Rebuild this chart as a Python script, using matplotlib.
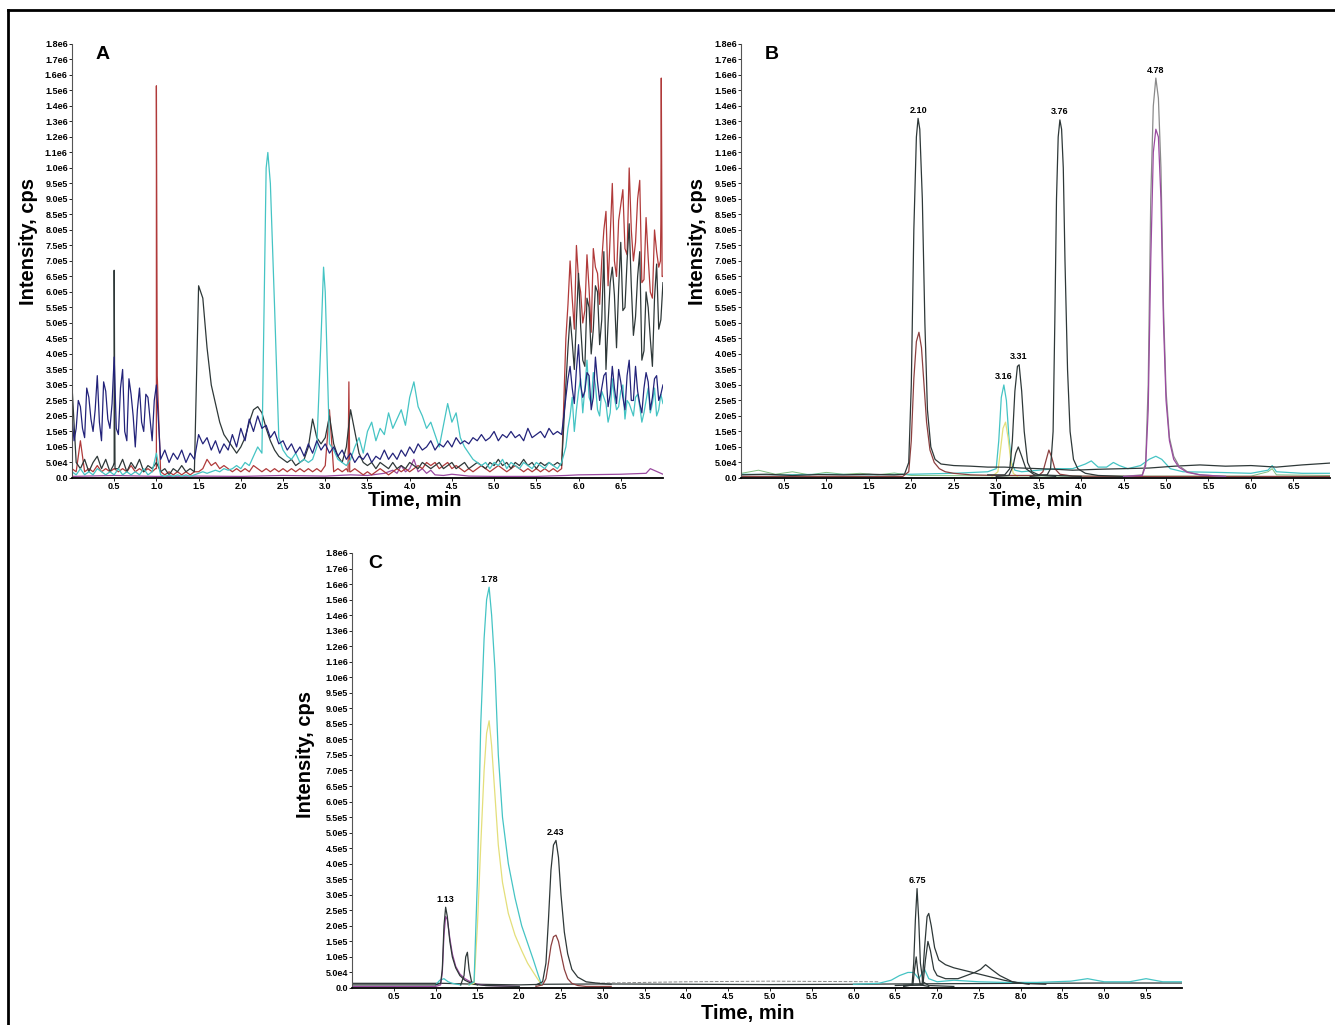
import numpy as np
import matplotlib
matplotlib.use("Agg")
import matplotlib.pyplot as plt
from matplotlib.lines import Line2D
from matplotlib.ticker import FixedLocator, FuncFormatter

plt.rcParams['font.family'] = ['Liberation Sans', 'DejaVu Sans']
plt.rcParams['font.weight'] = 'bold'

# ---------------- panel A (blank / interference), 0.05 min grid ----------------
grid_a = np.round(np.arange(0, 7.001, 0.05), 2)
# extra readings between grid points where the noise is densest
mid_a1 = np.round(np.arange(0.025, 1.0, 0.05), 3)
mid_a2 = np.round(np.arange(5.875, 7.0, 0.05), 3)

a_navy = [2.0e5, 1.6e5, 2.3e5, 1.3e5, 2.6e5, 1.5e5, 3.3e5, 1.2e5, 2.8e5, 1.6e5,
          3.9e5, 1.4e5, 3.5e5, 1.2e5, 2.7e5, 1.0e5, 2.9e5, 1.5e5, 2.6e5, 1.2e5,
          3.0e5, 6e4, 9e4, 5e4, 8e4, 6e4, 9e4, 5e4, 8e4, 6e4,
          1.4e5, 1.1e5, 1.3e5, 9e4, 1.2e5, 8e4, 1.1e5, 9e4, 1.4e5, 1.0e5,
          1.6e5, 1.2e5, 1.9e5, 1.5e5, 2.0e5, 1.6e5, 1.7e5, 1.3e5, 1.5e5, 1.1e5,
          1.2e5, 9e4, 1.1e5, 8e4, 1.0e5, 7e4, 1.1e5, 8e4, 1.2e5, 9e4,
          1.1e5, 8e4, 1.0e5, 7e4, 9e4, 6e4, 8e4, 5e4, 7e4, 6e4,
          8e4, 5e4, 7e4, 6e4, 9e4, 6e4, 8e4, 6e4, 9e4, 7e4,
          1.0e5, 8e4, 1.1e5, 9e4, 1.0e5, 1.2e5, 9e4, 1.1e5, 1.0e5, 1.2e5,
          1.0e5, 1.3e5, 1.1e5, 1.2e5, 1.1e5, 1.3e5, 1.2e5, 1.4e5, 1.2e5, 1.3e5,
          1.5e5, 1.2e5, 1.4e5, 1.3e5, 1.5e5, 1.3e5, 1.4e5, 1.2e5, 1.6e5, 1.3e5,
          1.4e5, 1.5e5, 1.3e5, 1.6e5, 1.4e5, 1.5e5, 1.4e5, 2.6e5, 3.6e5, 2.4e5,
          4.3e5, 2.6e5, 3.4e5, 2.2e5, 3.9e5, 2.5e5, 3.3e5, 2.3e5, 3.6e5, 2.4e5,
          3.1e5, 2.2e5, 3.8e5, 2.5e5, 2.8e5, 2.1e5, 3.4e5, 2.2e5, 3.2e5, 2.5e5,
          3.0e5]
a_navy_mid1 = [1.2e5, 2.5e5, 1.6e5, 2.9e5, 1.9e5, 2.2e5, 1.8e5, 3.1e5, 1.9e5, 2.4e5,
               1.6e5, 2.9e5, 1.5e5, 3.2e5, 2.0e5, 2.2e5, 1.8e5, 2.7e5, 1.9e5, 2.5e5]
a_navy_mid2 = [3.2e5, 2.9e5, 3.5e5, 3.0e5, 2.8e5, 3.3e5, 2.6e5, 3.1e5, 2.9e5, 3.4e5,
               2.7e5, 2.9e5, 3.5e5, 2.6e5, 3.3e5, 2.5e5, 3.6e5, 2.4e5, 2.9e5, 3.1e5,
               2.6e5, 3.3e5, 2.7e5]

a_dark = [3.0e5, 5e4, 3e4, 6e4, 2e4, 5e4, 7e4, 3e4, 6e4, 2e4,
          5e4, 3e4, 6e4, 2e4, 5e4, 3e4, 6e4, 2e4, 4e4, 3e4,
          5e4, 2e4, 3e4, 1e4, 3e4, 2e4, 4e4, 2e4, 3e4, 2e4,
          6.2e5, 5.8e5, 4.2e5, 3.0e5, 2.4e5, 1.8e5, 1.4e5, 1.2e5, 1.0e5, 8e4,
          1.0e5, 1.3e5, 1.8e5, 2.2e5, 2.3e5, 2.1e5, 1.6e5, 1.2e5, 9e4, 7e4,
          6e4, 5e4, 6e4, 4e4, 5e4, 6e4, 1.0e5, 1.9e5, 1.3e5, 1.1e5,
          1.3e5, 2.0e5, 1.1e5, 7e4, 5e4, 1.0e5, 2.2e5, 1.5e5, 8e4, 5e4,
          4e4, 5e4, 3e4, 5e4, 4e4, 3e4, 5e4, 3e4, 4e4, 3e4,
          5e4, 4e4, 3e4, 5e4, 4e4, 3e4, 4e4, 5e4, 3e4, 4e4,
          5e4, 3e4, 4e4, 5e4, 3e4, 4e4, 5e4, 4e4, 3e4, 5e4,
          4e4, 6e4, 4e4, 5e4, 3e4, 5e4, 4e4, 6e4, 4e4, 5e4,
          3e4, 5e4, 4e4, 5e4, 4e4, 5e4, 4e4, 3.0e5, 5.2e5, 3.5e5,
          6.6e5, 3.8e5, 5.8e5, 4.0e5, 6.2e5, 4.3e5, 7.3e5, 5.0e5, 6.8e5, 4.2e5,
          7.6e5, 5.5e5, 8.2e5, 4.6e5, 6.5e5, 3.8e5, 6.0e5, 4.5e5, 5.8e5, 4.8e5,
          6.3e5]
a_dark_mid2 = [4.2e5, 4.4e5, 5.1e5, 4.9e5, 3.6e5, 5.5e5, 4.8e5, 6.0e5, 5.1e5, 3.5e5,
               6.3e5, 5.9e5, 6.1e5, 5.4e5, 7.0e5, 6.2e5, 5.2e5, 7.3e5, 4.1e5, 5.5e5,
               3.6e5, 6.9e5, 5.1e5]

a_red = [3e4, 2e4, 1.2e5, 2e4, 3e4, 2e4, 4e4, 2e4, 3e4, 2e4,
         3e4, 2e4, 3e4, 2e4, 4e4, 2e4, 3e4, 2e4, 3e4, 2e4,
         3e4, 2e4, 1e4, 2e4, 1e4, 2e4, 1e4, 2e4, 1e4, 2e4,
         2e4, 3e4, 6e4, 4e4, 5e4, 3e4, 4e4, 3e4, 2e4, 3e4,
         2e4, 3e4, 2e4, 4e4, 3e4, 2e4, 3e4, 2e4, 3e4, 2e4,
         3e4, 2e4, 3e4, 2e4, 3e4, 2e4, 3e4, 2e4, 3e4, 2e4,
         4e4, 2.2e5, 2e4, 3e4, 2e4, 3e4, 2e4, 3e4, 2e4, 1e4,
         2e4, 1e4, 2e4, 3e4, 2e4, 1e4, 2e4, 3e4, 2e4, 3e4,
         2e4, 3e4, 4e4, 3e4, 5e4, 4e4, 5e4, 3e4, 4e4, 5e4,
         3e4, 4e4, 3e4, 2e4, 3e4, 2e4, 3e4, 4e4, 3e4, 2e4,
         3e4, 4e4, 3e4, 2e4, 3e4, 4e4, 3e4, 2e4, 3e4, 2e4,
         3e4, 2e4, 3e4, 2e4, 3e4, 2e4, 3e4, 4.5e5, 7.0e5, 4.8e5,
         6.4e5, 5.0e5, 7.2e5, 4.7e5, 6.8e5, 5.6e5, 8.0e5, 6.2e5, 9.5e5, 6.5e5,
         8.8e5, 7.4e5, 1.0e6, 7.0e5, 9.0e5, 6.3e5, 8.4e5, 6.0e5, 8.0e5, 6.8e5,
         6.5e5]
a_red_mid2 = [5.6e5, 5.8e5, 7.5e5, 6.0e5, 5.4e5, 6.1e5, 7.4e5, 6.6e5, 7.0e5, 8.6e5,
              7.8e5, 7.0e5, 8.3e5, 9.3e5, 7.2e5, 8.0e5, 7.6e5, 9.6e5, 6.4e5, 7.1e5,
              5.8e5, 7.3e5, 8.2e5]

a_cyan = [2e4, 1e4, 3e4, 1e4, 2e4, 1e4, 3e4, 2e4, 1e4, 2e4,
          1e4, 3e4, 1e4, 2e4, 1e4, 2e4, 1e4, 3e4, 1e4, 2e4,
          8e4, 1e4, 5e3, 1e4, 5e3, 1e4, 5e3, 1e4, 5e3, 1e4,
          1.5e4, 2e4, 1.5e4, 2e4, 2.5e4, 2e4, 3e4, 2.5e4, 3e4, 4e4,
          3e4, 5e4, 4e4, 7e4, 1.0e5, 8e4, 1.0e6, 9.5e5, 5.5e5, 1.3e5,
          9e4, 7e4, 6e4, 8e4, 5e4, 6e4, 5e4, 6e4, 1.0e5, 4.5e5,
          6.0e5, 1.1e5, 9e4, 6e4, 5e4, 4e4, 6e4, 1.0e5, 1.3e5, 8e4,
          1.5e5, 1.8e5, 1.2e5, 1.6e5, 1.4e5, 2.1e5, 1.6e5, 1.9e5, 2.2e5, 1.7e5,
          2.6e5, 3.1e5, 2.3e5, 2.0e5, 1.6e5, 1.8e5, 1.4e5, 1.0e5, 1.7e5, 2.4e5,
          1.8e5, 2.1e5, 1.3e5, 1.0e5, 8e4, 6e4, 5e4, 4e4, 5e4, 3e4,
          5e4, 4e4, 6e4, 3e4, 5e4, 4e4, 3e4, 5e4, 4e4, 3e4,
          5e4, 4e4, 3e4, 5e4, 4e4, 3e4, 5e4, 1.0e5, 2.0e5, 1.5e5,
          2.8e5, 2.1e5, 3.8e5, 2.4e5, 3.0e5, 2.0e5, 2.6e5, 1.8e5, 3.2e5, 2.2e5,
          2.8e5, 1.9e5, 2.4e5, 2.0e5, 2.7e5, 1.8e5, 2.5e5, 2.1e5, 2.9e5, 2.2e5,
          2.4e5]
a_cyan_mid2 = [1.6e5, 2.6e5, 2.2e5, 3.2e5, 2.9e5, 2.6e5, 3.4e5, 2.2e5, 2.8e5, 2.4e5,
               2.1e5, 2.6e5, 2.3e5, 3.0e5, 2.5e5, 2.2e5, 2.6e5, 2.3e5, 2.1e5, 2.9e5,
               2.4e5, 2.0e5, 2.7e5]

# narrow spikes that fall between grid points
a_dark_spk_t = [0.49, 0.50, 0.51]
a_dark_spk_v = [4e4, 6.7e5, 3e4]
a_red_spk_t = [0.99, 1.00, 1.01, 3.27, 3.28, 3.29, 6.97, 6.98, 6.99]
a_red_spk_v = [3e4, 1.53e6, 3.3e5, 2e4, 3.1e5, 2e4, 7.0e5, 1.58e6, 6.5e5]
a_cyan_spk_t = [2.32, 2.98]
a_cyan_spk_v = [1.1e6, 6.8e5]

a_purple_t = [0.0, 0.5, 1.0, 1.5, 2.0, 2.5, 3.0, 3.3, 3.5, 3.7, 3.8, 3.85, 3.9, 3.95, 4.0, 4.05,
              4.1, 4.15, 4.2, 4.25, 4.3, 4.4, 4.5, 4.7, 5.0, 5.5, 5.85, 6.0, 6.5, 6.8, 6.85, 7.0]
a_purple_v = [5e3, 8e3, 5e3, 6e3, 5e3, 8e3, 6e3, 1e4, 8e3, 1.5e4, 2.5e4, 1.5e4, 4e4, 2e4, 3e4, 6e4,
              2e4, 3e4, 1.5e4, 2.5e4, 1e4, 8e3, 1.2e4, 6e3, 5e3, 5e3, 8e3, 1e4, 1.2e4, 1.5e4, 3e4, 1.2e4]

# ---------------- panel B ----------------
b_dark1_t = [0.0, 0.3, 0.6, 0.9, 1.2, 1.5, 1.8, 1.92, 1.97, 2.00, 2.03, 2.06, 2.08, 2.10, 2.13, 2.16,
             2.19, 2.23, 2.28, 2.35, 2.5, 2.7, 2.9, 3.1, 3.3, 3.5, 3.7, 3.9, 4.2, 4.5, 4.8, 5.1,
             5.4, 5.7, 6.0, 6.3, 6.6, 6.93]
b_dark1_v = [1.0e4, 1.2e4, 0.8e4, 1.1e4, 1.0e4, 1.2e4, 1.0e4, 1.2e4, 5e4, 3.0e5, 8.0e5, 1.2e6, 1.32e6,
             1.25e6, 9.0e5, 5.0e5, 2.2e5, 1.0e5, 6e4, 4.5e4, 4.0e4, 3.8e4, 3.5e4, 3.5e4, 3.2e4, 3.0e4,
             2.8e4, 2.5e4, 2.8e4, 3.0e4, 3.2e4, 3.8e4, 4.2e4, 3.8e4, 4.0e4, 3.5e4, 4.2e4, 4.8e4]
b_red_t = [0.0, 1.9, 1.97, 2.00, 2.03, 2.06, 2.09, 2.12, 2.15, 2.18, 2.22, 2.27, 2.33, 2.4, 2.5, 2.7,
           3.0, 3.5, 3.55, 3.59, 3.62, 3.65, 3.69, 3.75, 3.9, 4.5, 5.5, 6.93]
b_red_v = [5e3, 5e3, 2e4, 1.2e5, 3.2e5, 4.4e5, 4.7e5, 4.2e5, 3.0e5, 1.8e5, 9e4, 5e4, 3e4, 2e4, 1.5e4,
           1e4, 8e3, 8e3, 2e4, 6e4, 9e4, 7e4, 3e4, 1.2e4, 6e3, 5e3, 5e3, 5e3]
b_cyan_t = [0.0, 0.5, 1.0, 1.5, 2.0, 2.5, 2.9, 3.0, 3.03, 3.06, 3.09, 3.12, 3.15, 3.18, 3.22, 3.3,
            3.5, 3.7, 3.9, 4.05, 4.12, 4.2, 4.3, 4.38, 4.45, 4.55, 4.7, 4.8, 4.88, 4.95, 5.05, 5.2,
            5.6, 6.0, 6.2, 6.25, 6.3, 6.6, 6.93]
b_cyan_v = [1.2e4, 1.0e4, 1.2e4, 1.0e4, 1.2e4, 1.5e4, 2.0e4, 3e4, 1.2e5, 2.6e5, 3.0e5, 2.5e5, 1.3e5,
            5e4, 2.5e4, 2e4, 2.5e4, 3.0e4, 3.0e4, 4.5e4, 5.5e4, 3.5e4, 3.5e4, 5e4, 4e4, 3e4, 4e4,
            6e4, 7e4, 6e4, 3e4, 2e4, 1.8e4, 1.5e4, 2.5e4, 4e4, 2e4, 1.5e4, 1.5e4]
b_yellow_t = [2.95, 3.02, 3.05, 3.08, 3.11, 3.14, 3.17, 3.2, 3.25]
b_yellow_v = [5e3, 2e4, 9e4, 1.6e5, 1.8e5, 1.3e5, 6e4, 1.5e4, 5e3]
b_dark2_t = [2.9, 3.1, 3.16, 3.19, 3.22, 3.25, 3.27, 3.3, 3.33, 3.37, 3.42, 3.5, 3.7, 4.0]
b_dark2_v = [1e4, 1e4, 3e4, 1.2e5, 2.8e5, 3.6e5, 3.65e5, 2.8e5, 1.5e5, 5e4, 2e4, 1e4, 8e3, 5e3]
b_dark3_t = [3.0, 3.15, 3.2, 3.23, 3.26, 3.3, 3.35, 3.45, 3.7]
b_dark3_v = [5e3, 8e3, 4e4, 8e4, 1.0e5, 7e4, 3e4, 1e4, 5e3]
b_dark4_t = [3.4, 3.6, 3.64, 3.67, 3.69, 3.71, 3.73, 3.75, 3.77, 3.79, 3.81, 3.84, 3.87, 3.91, 3.96,
             4.05, 4.2, 4.5]
b_dark4_v = [5e3, 1e4, 3e4, 1.5e5, 5e5, 9e5, 1.2e6, 1.31e6, 1.25e6, 1.0e6, 7e5, 3.5e5, 1.5e5, 6e4,
             3e4, 1.5e4, 8e3, 5e3]
b_late_t = [4.5, 4.72, 4.76, 4.79, 4.82, 4.85, 4.88, 4.91, 4.94, 4.97, 5.0, 5.04, 5.09, 5.15, 5.25,
            5.4, 5.7]
b_gray_v = [5e3, 1e4, 5e4, 3e5, 9e5, 1.4e6, 1.58e6, 1.45e6, 1.0e6, 5.5e5, 2.8e5, 1.3e5, 7e4, 4e4,
            2e4, 1e4, 5e3]
b_purple_v = [5e3, 8e3, 4e4, 2.2e5, 7e5, 1.1e6, 1.25e6, 1.2e6, 9e5, 5e5, 2.5e5, 1.2e5, 6e4, 3.5e4,
              1.8e4, 1e4, 5e3]
b_base_t = [0.0, 0.2, 0.4, 0.6, 0.8, 1.0, 1.2, 1.4, 1.6, 1.8, 2.0, 4.0, 6.0, 6.2, 6.25, 6.3, 6.93]
b_base_v = [1.5e4, 2.5e4, 1.2e4, 2e4, 1.0e4, 1.8e4, 1.2e4, 1.5e4, 1.0e4, 1.6e4, 8e3, 6e3, 6e3, 2e4,
            3e4, 1e4, 8e3]
b_peaks = ["2.10", "3.16", "3.31", "3.76", "4.78"]
b_peak_t = [2.08, 3.09, 3.26, 3.75, 4.88]
b_peak_v = [1.32e6, 3.0e5, 3.65e5, 1.31e6, 1.58e6]

# ---------------- panel C ----------------
c_base_t = [0.0, 1.0, 1.1, 1.5, 2.0, 2.3, 3.0, 4.0, 5.0, 6.0, 6.5, 8.0, 9.0, 9.93]
c_base_v = [1.5e4, 1.5e4, 1.5e4, 1.2e4, 1.0e4, 1.2e4, 1.3e4, 1.2e4, 1.1e4, 1.2e4, 1.3e4, 1.5e4,
            1.6e4, 1.6e4]
c_base2_t = [2.8, 3.5, 4.0, 5.0, 6.3]
c_base2_v = [1.5e4, 1.8e4, 2.0e4, 2.2e4, 2.0e4]
c_p1_t = [0.0, 1.0, 1.06, 1.08, 1.10, 1.12, 1.14, 1.17, 1.20, 1.24, 1.29, 1.35, 1.45, 1.6, 2.0]
c_dark1_v = [1e4, 1e4, 1.5e4, 6e4, 2.0e5, 2.6e5, 2.3e5, 1.5e5, 1.0e5, 6.5e4, 4e4, 2.5e4, 1.2e4,
             8e3, 5e3]
c_purple1_v = [5e3, 5e3, 1e4, 5e4, 1.7e5, 2.3e5, 2.2e5, 1.6e5, 1.1e5, 7e4, 4.5e4, 3e4, 1.5e4,
               8e3, 5e3]
c_dark2_t = [1.3, 1.34, 1.36, 1.38, 1.40, 1.43, 1.5]
c_dark2_v = [1e4, 4e4, 1.0e5, 1.15e5, 6e4, 2e4, 1e4]
c_cyan1_t = [1.0, 1.05, 1.1, 1.15, 1.2, 1.3]
c_cyan1_v = [1e4, 2.5e4, 3e4, 2e4, 1.5e4, 1e4]
c_p2_t = [1.4, 1.46, 1.50, 1.54, 1.58, 1.61, 1.64, 1.67, 1.71, 1.75, 1.80, 1.87, 1.95, 2.03, 2.10,
          2.17, 2.23, 2.27]
c_cyan_v = [1e4, 2e4, 3.5e5, 8.5e5, 1.25e6, 1.5e6, 1.58e6, 1.4e6, 1.05e6, 7.5e5, 5.5e5, 4.0e5,
            2.9e5, 2.0e5, 1.45e5, 9e4, 4e4, 1e4]
c_yellow_v = [1e4, 1.5e4, 2e5, 4.6e5, 7.0e5, 8.2e5, 8.6e5, 7.8e5, 6.2e5, 4.6e5, 3.4e5, 2.4e5,
              1.7e5, 1.2e5, 8e4, 5e4, 2.5e4, 1e4]
c_p3_t = [2.2, 2.28, 2.32, 2.35, 2.38, 2.41, 2.44, 2.47, 2.50, 2.54, 2.58, 2.63, 2.70, 2.80, 2.95,
          3.1]
c_dark3_v = [1e4, 2e4, 8e4, 2.2e5, 3.8e5, 4.6e5, 4.75e5, 4.2e5, 3.0e5, 1.8e5, 1.1e5, 6e4, 3.5e4,
             2e4, 1.5e4, 1.2e4]
c_brown_v = [5e3, 1e4, 3e4, 8e4, 1.35e5, 1.65e5, 1.7e5, 1.5e5, 1.1e5, 6e4, 3e4, 1.5e4, 8e3, 5e3,
             5e3, 5e3]
c_dark4_t = [6.5, 6.70, 6.72, 6.74, 6.76, 6.78, 6.80, 6.83, 6.9, 7.2]
c_dark4_v = [8e3, 1e4, 8e4, 2.2e5, 3.2e5, 2.2e5, 8e4, 2e4, 8e3, 5e3]
c_dark5_t = [6.6, 6.82, 6.85, 6.88, 6.90, 6.93, 6.97, 7.02, 7.1, 7.2, 7.35, 7.5, 7.65, 7.8, 8.0, 8.3]
c_dark5_v = [8e3, 1e4, 1.3e5, 2.3e5, 2.4e5, 2.0e5, 1.3e5, 9e4, 7.5e4, 6.5e4, 5.5e4, 4.5e4, 3.5e4,
             2.5e4, 1.5e4, 1.2e4]
c_dark6_t = [6.6, 6.83, 6.86, 6.89, 6.92, 6.96, 7.0, 7.1, 7.25, 7.35, 7.45, 7.52, 7.58, 7.65, 7.75,
             7.9, 8.1]
c_dark6_v = [8e3, 1e4, 9e4, 1.5e5, 1.2e5, 6e4, 4e4, 3e4, 3e4, 4e4, 5e4, 6e4, 7.5e4, 6e4, 4e4,
             2e4, 1.2e4]
c_dark7_t = [6.6, 6.71, 6.73, 6.75, 6.77, 6.80, 6.9]
c_dark7_v = [5e3, 1e4, 6e4, 1.0e5, 5e4, 1e4, 5e3]
c_cyan2_t = [6.0, 6.3, 6.45, 6.55, 6.65, 6.72, 6.78, 6.85, 6.9, 7.0, 7.2, 7.5, 7.8, 8.2, 8.6, 8.8,
             9.0, 9.3, 9.5, 9.7, 9.93]
c_cyan2_v = [1.2e4, 1.5e4, 2.5e4, 4e4, 5e4, 5e4, 3e4, 6e4, 3e4, 2e4, 2.5e4, 2e4, 1.8e4, 1.8e4,
             2.2e4, 3e4, 2e4, 2e4, 3e4, 2e4, 2e4]
c_peaks = ["1.13", "1.78", "2.43", "6.75"]
c_peak_t = [1.12, 1.64, 2.44, 6.76]
c_peak_v = [2.6e5, 1.58e6, 4.75e5, 3.2e5]

# tick values of the intensity axis (5e4 steps up to 1e6, then 1e5 steps)
y_ticks = list(np.arange(0, 1.0e6 + 1, 5e4)) + list(np.arange(1.1e6, 1.8e6 + 1, 1e5))

NAVY = "#23237a"
DARK = "#2e3838"
RED = "#b03a3a"
CYAN = "#45c4c4"
PURPLE = "#9a4aa0"
YELLOW = "#e4df7a"
GRAY = "#8a8a8a"
BROWN = "#8c4040"
GREEN = "#7fbf7f"


def merge(*pairs):
    t = np.concatenate([np.asarray(p[0], float) for p in pairs])
    v = np.concatenate([np.asarray(p[1], float) for p in pairs])
    order = np.argsort(t, kind="stable")
    return t[order], v[order]


# the instrument axis spaces every tick label equally, so the scale is piecewise linear
def y_fwd(v):
    v = np.asarray(v, float)
    return np.where(v <= 1e6, v / 5e4, 20 + (v - 1e6) / 1e5)


def y_inv(u):
    u = np.asarray(u, float)
    return np.where(u <= 20, u * 5e4, 1e6 + (u - 20) * 1e5)


def y_fmt(v, pos):
    if v == 0:
        return "0.0"
    m, e = "{:.1e}".format(v).split("e")
    return "{}e{}".format(m, int(e))


def style_axes(ax, xmax, letter, xlab_x, xlab_y, ylab_x, ylab_y):
    ax.set_yscale("function", functions=(y_fwd, y_inv))
    ax.set_xlim(0, xmax)
    ax.set_ylim(0, 1.8e6)
    ax.yaxis.set_major_locator(FixedLocator(y_ticks))
    ax.yaxis.set_major_formatter(FuncFormatter(y_fmt))
    ax.yaxis.set_minor_locator(FixedLocator([]))
    ax.xaxis.set_major_locator(FixedLocator(np.arange(0.5, xmax, 0.5)))
    ax.xaxis.set_major_formatter(FuncFormatter(lambda v, p: "{:.1f}".format(v)))
    ax.tick_params(axis="both", labelsize=6.5, length=2, width=0.6, pad=1)
    for lab in ax.get_xticklabels() + ax.get_yticklabels():
        lab.set_fontweight("bold")
    for s in ["top", "right"]:
        ax.spines[s].set_visible(False)
    ax.spines["left"].set_color("#555555")
    ax.spines["left"].set_linewidth(0.8)
    ax.spines["bottom"].set_linewidth(1.3)
    ax.set_xlabel("Time, min", fontsize=14.5, fontweight="bold")
    ax.set_ylabel("Intensity, cps", fontsize=14.5, fontweight="bold")
    ax.xaxis.set_label_coords(xlab_x, xlab_y)
    ax.yaxis.set_label_coords(ylab_x, ylab_y)
    ax.text(0.04 if letter != "C" else 0.02, 0.975, letter, transform=ax.transAxes,
            fontsize=14, fontweight="bold", va="center", ha="left")


def label_peaks(ax, names, ts, vs):
    for n, t, v in zip(names, ts, vs):
        ax.annotate(n, (t, v), xytext=(0, 2.5), textcoords="offset points",
                    ha="center", va="bottom", fontsize=6.5, fontweight="bold")


fig = plt.figure(figsize=(13.35, 10.25), dpi=100)
axA = fig.add_axes([0.0539, 0.5337, 0.4427, 0.4234])
axB = fig.add_axes([0.5554, 0.5337, 0.4408, 0.4234])
axC = fig.add_axes([0.2637, 0.0361, 0.6217, 0.4244])

lw = 0.9
# panel A
axA.plot(a_purple_t, a_purple_v, color=PURPLE, lw=lw)
t, v = merge((grid_a, a_red), (mid_a2, a_red_mid2), (a_red_spk_t, a_red_spk_v))
axA.plot(t, v, color=RED, lw=lw)
t, v = merge((grid_a, a_dark), (mid_a2, a_dark_mid2), (a_dark_spk_t, a_dark_spk_v))
axA.plot(t, v, color=DARK, lw=lw)
t, v = merge((grid_a, a_cyan), (mid_a2, a_cyan_mid2), (a_cyan_spk_t, a_cyan_spk_v))
axA.plot(t, v, color=CYAN, lw=lw)
t, v = merge((grid_a, a_navy), (mid_a1, a_navy_mid1), (mid_a2, a_navy_mid2))
axA.plot(t, v, color=NAVY, lw=lw)
style_axes(axA, 7.0, "A", 0.58, -0.03, -0.0575, 0.544)

# panel B
axB.plot(b_base_t, b_base_v, color=GREEN, lw=0.7)
axB.plot(b_cyan_t, b_cyan_v, color=CYAN, lw=lw)
axB.plot(b_yellow_t, b_yellow_v, color=YELLOW, lw=lw)
axB.plot(b_red_t, b_red_v, color=BROWN, lw=lw)
axB.plot(b_dark1_t, b_dark1_v, color=DARK, lw=lw)
axB.plot(b_dark2_t, b_dark2_v, color=DARK, lw=lw)
axB.plot(b_dark3_t, b_dark3_v, color=DARK, lw=lw)
axB.plot(b_dark4_t, b_dark4_v, color=DARK, lw=lw)
axB.plot(b_late_t, b_gray_v, color=GRAY, lw=lw)
axB.plot(b_late_t, b_purple_v, color=PURPLE, lw=lw)
label_peaks(axB, b_peaks, b_peak_t, b_peak_v)
style_axes(axB, 6.93, "B", 0.5, -0.03, -0.0586, 0.544)

# panel C
axC.plot(c_base_t, c_base_v, color=DARK, lw=lw)
axC.plot(c_base2_t, c_base2_v, color=GRAY, lw=0.7, ls="--")
axC.plot(c_cyan1_t, c_cyan1_v, color=CYAN, lw=lw)
axC.plot(c_p1_t, c_purple1_v, color=PURPLE, lw=lw)
axC.plot(c_p1_t, c_dark1_v, color=DARK, lw=lw)
axC.plot(c_dark2_t, c_dark2_v, color=DARK, lw=lw)
axC.plot(c_p2_t, c_yellow_v, color=YELLOW, lw=lw)
axC.plot(c_p2_t, c_cyan_v, color=CYAN, lw=lw)
axC.plot(c_p3_t, c_brown_v, color=BROWN, lw=lw)
axC.plot(c_p3_t, c_dark3_v, color=DARK, lw=lw)
axC.plot(c_cyan2_t, c_cyan2_v, color=CYAN, lw=lw)
axC.plot(c_dark7_t, c_dark7_v, color=DARK, lw=lw)
axC.plot(c_dark6_t, c_dark6_v, color=DARK, lw=lw)
axC.plot(c_dark5_t, c_dark5_v, color=DARK, lw=lw)
axC.plot(c_dark4_t, c_dark4_v, color=DARK, lw=lw)
label_peaks(axC, c_peaks, c_peak_t, c_peak_v)
style_axes(axC, 9.93, "C", 0.477, -0.036, -0.0446, 0.536)

# frame lines around the figure (top and left)
fig.add_artist(Line2D([8 / 1335, 1.0], [1 - 10 / 1025, 1 - 10 / 1025], color="black", lw=2))
fig.add_artist(Line2D([8 / 1335, 8 / 1335], [0.0, 1 - 10 / 1025], color="black", lw=2))

fig.savefig("out.png", dpi=100)
